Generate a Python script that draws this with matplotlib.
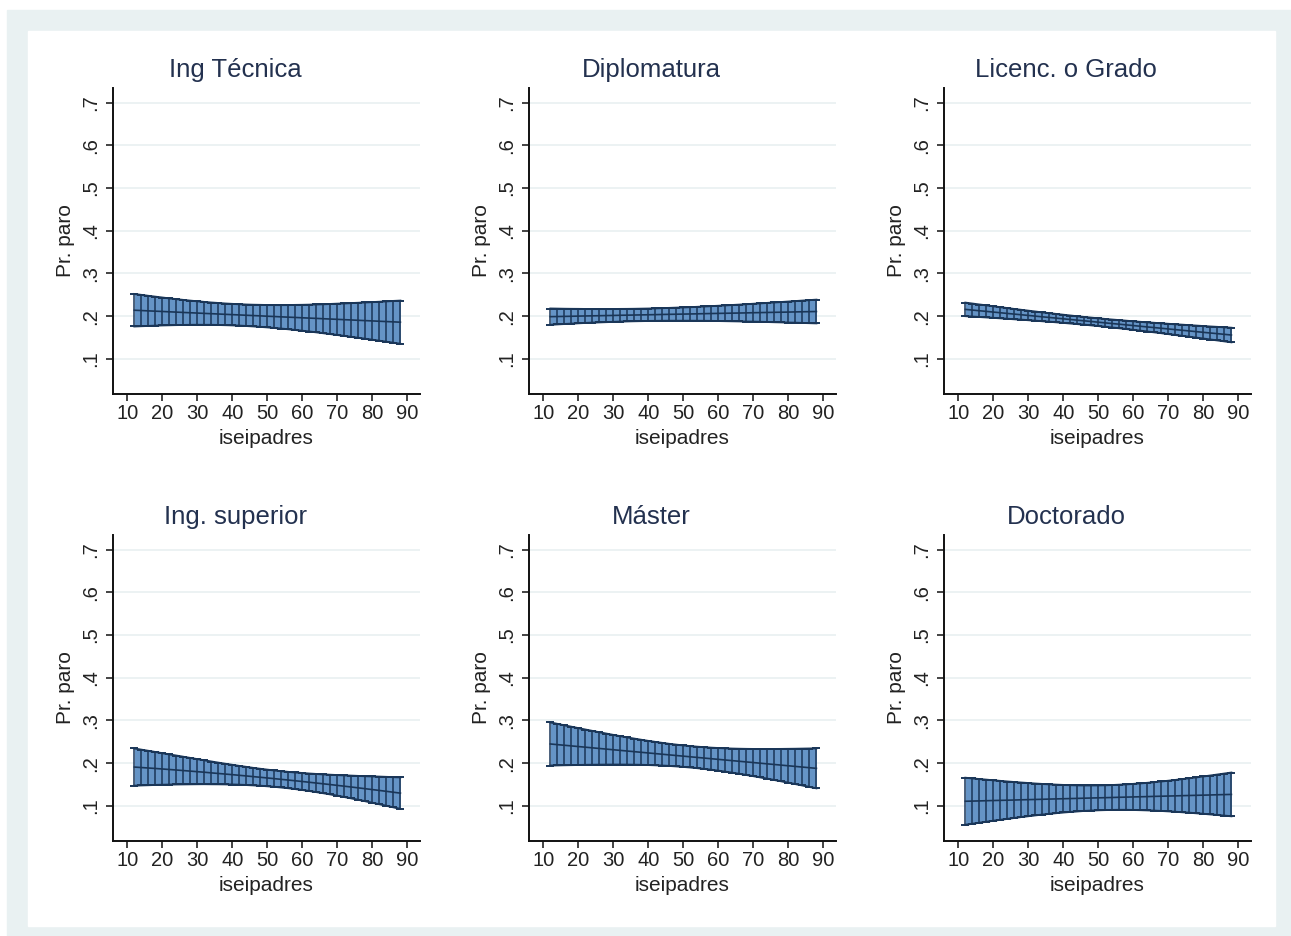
import numpy as np
import matplotlib.pyplot as plt
from matplotlib.patches import Rectangle

plt.rcParams['font.family'] = ['Liberation Sans', 'DejaVu Sans']

# valores de iseipadres donde se evalua el margen
iseipadres = list(range(12, 89, 2))

titulos = ['Ing Técnica', 'Diplomatura', 'Licenc. o Grado',
           'Ing. superior', 'Máster', 'Doctorado']

y_ticks = [.1, .2, .3, .4, .5, .6, .7]
y_labels = ['.1', '.2', '.3', '.4', '.5', '.6', '.7']
x_ticks = [10, 20, 30, 40, 50, 60, 70, 80, 90]

# prob. paro estimada (centro) y semiamplitud del intervalo
centro_ing_tec = [.2140, .2133, .2125, .2118, .2111, .2103, .2096, .2088, .2081, .2074,
                  .2066, .2059, .2052, .2044, .2037, .2030, .2022, .2015, .2008, .2000,
                  .1993, .1985, .1978, .1971, .1963, .1956, .1949, .1941, .1934, .1927,
                  .1919, .1912, .1904, .1897, .1890, .1882, .1875, .1868, .1860]
semi_ing_tec = [.0380, .0366, .0352, .0339, .0326, .0314, .0303, .0293, .0283, .0275,
                .0268, .0261, .0257, .0253, .0251, .0250, .0251, .0253, .0257, .0261,
                .0268, .0275, .0283, .0293, .0303, .0314, .0326, .0339, .0352, .0366,
                .0380, .0395, .0410, .0425, .0440, .0456, .0472, .0489, .0505]

centro_diplo = [.1990, .1993, .1996, .1999, .2003, .2006, .2009, .2012, .2015, .2018,
                .2022, .2025, .2028, .2031, .2034, .2037, .2041, .2044, .2047, .2050,
                .2053, .2056, .2060, .2063, .2066, .2069, .2072, .2075, .2078, .2082,
                .2085, .2088, .2091, .2094, .2097, .2101, .2104, .2107, .2110]
semi_diplo = [.0190, .0184, .0178, .0173, .0168, .0163, .0159, .0156, .0153, .0150,
              .0148, .0146, .0145, .0145, .0145, .0146, .0148, .0150, .0153, .0156,
              .0159, .0163, .0168, .0173, .0178, .0184, .0190, .0196, .0203, .0209,
              .0216, .0223, .0231, .0238, .0246, .0253, .0261, .0269, .0277]

centro_licenc = [.2160, .2144, .2128, .2113, .2097, .2081, .2065, .2049, .2034, .2018,
                 .2002, .1986, .1971, .1955, .1939, .1923, .1907, .1892, .1876, .1860,
                 .1844, .1828, .1813, .1797, .1781, .1765, .1749, .1734, .1718, .1702,
                 .1686, .1671, .1655, .1639, .1623, .1607, .1592, .1576, .1560]
semi_licenc = [.0158, .0152, .0146, .0141, .0135, .0130, .0125, .0120, .0115, .0111,
               .0107, .0103, .0100, .0097, .0095, .0093, .0091, .0090, .0090, .0090,
               .0091, .0093, .0095, .0097, .0100, .0103, .0107, .0111, .0115, .0120,
               .0125, .0130, .0135, .0141, .0146, .0152, .0158, .0164, .0170]

centro_ing_sup = [.1910, .1899, .1888, .1877, .1865, .1853, .1841, .1828, .1815, .1802,
                  .1789, .1774, .1760, .1746, .1732, .1717, .1702, .1686, .1671, .1655,
                  .1639, .1622, .1606, .1589, .1572, .1554, .1536, .1518, .1500, .1481,
                  .1462, .1443, .1423, .1403, .1383, .1363, .1342, .1321, .1300]
semi_ing_sup = [.0435, .0418, .0402, .0385, .0369, .0353, .0338, .0323, .0308, .0293,
                .0279, .0266, .0253, .0241, .0230, .0220, .0212, .0204, .0198, .0194,
                .0191, .0190, .0191, .0194, .0198, .0204, .0212, .0220, .0230, .0241,
                .0253, .0266, .0279, .0293, .0308, .0323, .0338, .0353, .0369]

centro_master = [.2450, .2435, .2420, .2405, .2390, .2375, .2360, .2345, .2330, .2315,
                 .2300, .2285, .2270, .2255, .2240, .2225, .2210, .2195, .2180, .2165,
                 .2150, .2135, .2120, .2105, .2090, .2075, .2060, .2045, .2030, .2015,
                 .2000, .1985, .1970, .1955, .1940, .1925, .1910, .1895, .1880]
semi_master = [.0504, .0486, .0467, .0449, .0431, .0413, .0396, .0379, .0363, .0347,
               .0332, .0318, .0305, .0293, .0282, .0273, .0265, .0258, .0254, .0251,
               .0250, .0251, .0254, .0258, .0265, .0273, .0282, .0293, .0305, .0318,
               .0332, .0347, .0363, .0379, .0396, .0413, .0431, .0449, .0467]

centro_doct = [.1110, .1114, .1118, .1123, .1127, .1131, .1135, .1139, .1144, .1148,
               .1152, .1156, .1161, .1165, .1169, .1173, .1177, .1182, .1186, .1190,
               .1194, .1198, .1203, .1207, .1211, .1215, .1219, .1224, .1228, .1232,
               .1236, .1241, .1245, .1249, .1253, .1257, .1262, .1266, .1270]
semi_doct = [.0550, .0530, .0511, .0492, .0473, .0455, .0437, .0420, .0403, .0388,
             .0372, .0358, .0345, .0333, .0322, .0313, .0305, .0298, .0294, .0291,
             .0290, .0291, .0294, .0298, .0305, .0313, .0322, .0333, .0345, .0358,
             .0372, .0388, .0403, .0420, .0437, .0455, .0473, .0492, .0511]

centros = [centro_ing_tec, centro_diplo, centro_licenc, centro_ing_sup, centro_master, centro_doct]
semis = [semi_ing_tec, semi_diplo, semi_licenc, semi_ing_sup, semi_master, semi_doct]

W, H = 1291, 936
navy = '#1a3658'
relleno = '#6594c6'
fondo = '#e9f1f2'
texto = '#222222'


def panel(ax, centro, semi):
    x = np.array(iseipadres)
    c = np.array(centro)
    s = np.array(semi)
    lo, hi = c - s, c + s
    ax.fill_between(x, lo, hi, color=relleno, lw=0, zorder=2)
    ax.errorbar(x, c, yerr=s, fmt='none', ecolor=navy, elinewidth=1.1,
                capsize=3.2, capthick=1.4, zorder=3)
    ax.plot(x, lo, color=navy, lw=1.4, zorder=4)
    ax.plot(x, hi, color=navy, lw=1.4, zorder=4)
    ax.plot(x, c, color=navy, lw=1.2, zorder=4)

    ax.set_xlim(5.9, 93.6)
    ax.set_ylim(0.018, 0.734)
    ax.set_xticks(x_ticks)
    ax.set_yticks(y_ticks)
    ax.set_yticklabels(y_labels)
    for lab in ax.get_yticklabels():
        lab.set_rotation(90)
        lab.set_va('center')
    ax.grid(axis='y', color='#eaf1f2', lw=1.3, zorder=0)
    ax.set_axisbelow(True)
    for lado in ['top', 'right']:
        ax.spines[lado].set_visible(False)
    for lado in ['left', 'bottom']:
        ax.spines[lado].set_linewidth(1.4)
        ax.spines[lado].set_color('#111111')
    ax.tick_params(axis='both', length=5, width=1.1, color='#111111',
                   labelsize=14.5, labelcolor=texto)
    ax.tick_params(axis='x', pad=2)
    ax.tick_params(axis='y', pad=4)
    ax.set_xlabel('iseipadres', fontsize=15, color=texto)
    ax.set_ylabel('Pr. paro', fontsize=15, color=texto)
    ax.xaxis.label.set_va('center')
    ax.yaxis.label.set_va('center')
    ax.xaxis.set_label_coords(0.5, -0.144)
    ax.yaxis.set_label_coords(-0.156, 0.5)


fig = plt.figure(figsize=(W / 100, H / 100), dpi=100)
fig.patch.set_facecolor('white')
fig.patches.append(Rectangle((7 / W, 0), 1 - 7 / W, (H - 10) / H,
                             transform=fig.transFigure, color=fondo, zorder=-10))
fig.patches.append(Rectangle((28 / W, 10 / H), 1247 / W, 895 / H,
                             transform=fig.transFigure, color='white', zorder=-9))

izq = [113, 529, 944]
arriba = [88, 535]
ancho, alto = 307, 306

for k in range(6):
    fila, col = divmod(k, 3)
    l, t = izq[col], arriba[fila]
    ax = fig.add_axes([l / W, (H - t - alto) / H, ancho / W, alto / H])
    ax.patch.set_alpha(0)
    panel(ax, centros[k], semis[k])
    fig.text((l + 122) / W, (H - (t - 18)) / H, titulos[k], ha='center', va='center',
             fontsize=18.5, color='#23314f')

plt.savefig('out.png', dpi=100)
